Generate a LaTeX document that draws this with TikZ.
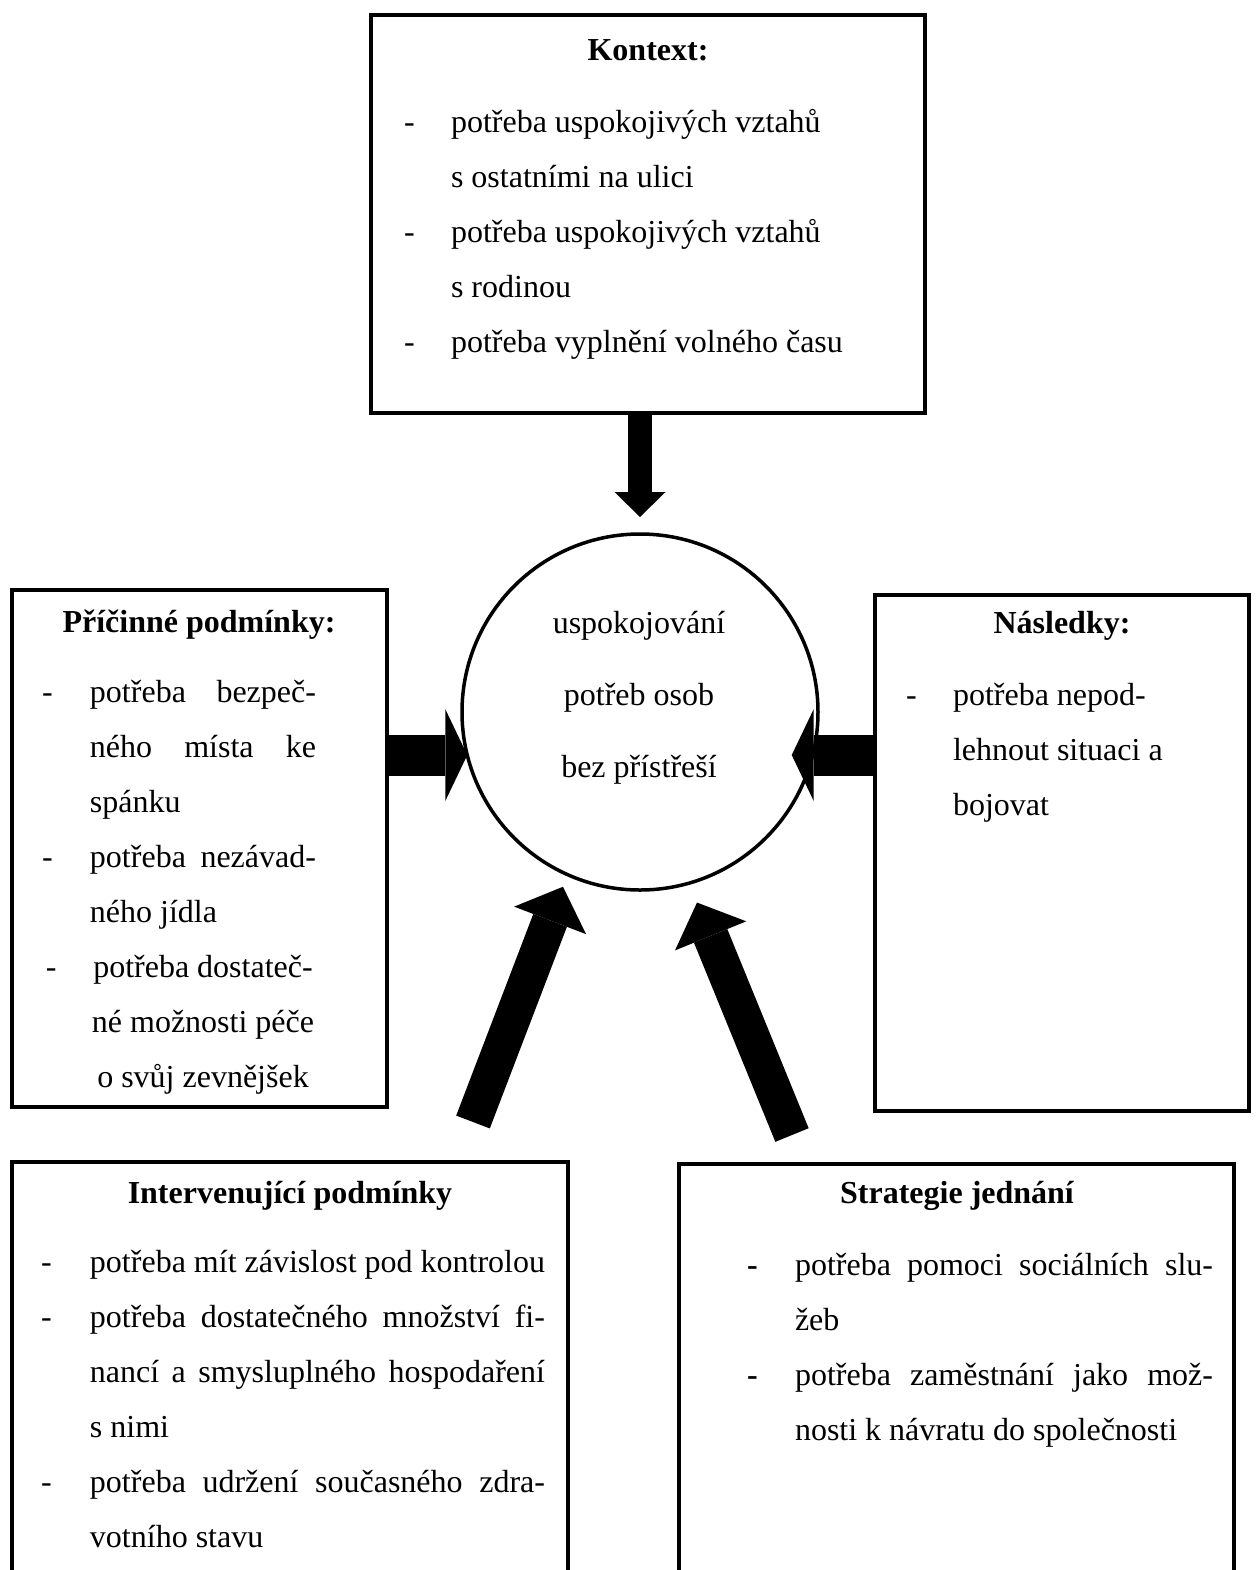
\documentclass[tikz,border=0pt]{standalone}
\usepackage{fontspec}
\setmainfont{Liberation Serif}
\usetikzlibrary{arrows.meta}
\newcommand{\jst}[2]{\makebox[#1][s]{#2}}

\begin{document}
\begin{tikzpicture}[x=0.5pt,y=-0.5pt]
        \tikzstyle{every node}=[inner sep=0pt, outer sep=0pt, font=\fontsize{16}{20}\selectfont]
        \tikzstyle{box}=[draw, rectangle, line width=2pt]
        \tikzstyle{ln}=[anchor=base west]
        \tikzstyle{cl}=[anchor=base]
        \tikzstyle{hd}=[anchor=base, font=\fontsize{16}{20}\selectfont\bfseries]
        \tikzset{downarr/.style={line width=12pt, -{Triangle[length=12.5pt, width=25.5pt, line width=0pt]}},
                 sidearr/.style={line width=20.5pt, -{Triangle[length=11pt, width=46pt, line width=0pt]}},
                 uparr/.style={line width=18pt, -{Triangle[length=18pt, width=38.5pt, line width=0pt]}}}
        \useasboundingbox (0,0) rectangle (1256,1570);
        \clip (0,0) rectangle (1256,1570);

        \node[box, minimum width=277pt, minimum height=199pt] (kontext) at (648,214) {};
        \node[box, minimum width=187.5pt, minimum height=258.5pt] (pricinne) at (199.5,848.5) {};
        \node[box, minimum width=187pt, minimum height=258pt] (nasledky) at (1062,853) {};
        \node[box, minimum width=278pt, minimum height=229pt] (intervence) at (290,1391) {};
        \node[box, minimum width=277.5pt, minimum height=228pt] (strategie) at (956.5,1392) {};
        \node[draw, circle, line width=1.75pt, minimum size=178pt] (circ) at (640,712) {};

        \node[hd] (kontext-t) at (648,60) {Kontext:};
        \foreach \t [count=\i from 0] in {potřeba uspokojivých vztahů, s ostatními na ulici,
                potřeba uspokojivých vztahů, s rodinou, potřeba vyplnění volného času}
            \node[ln] (kl\i) at (451,132+55*\i) {\t};
        \foreach \i in {0,2,4} \node[ln] (kd\i) at (404,132+55*\i) {-};

        \node[cl] (circ-1) at (639,633) {uspokojování};
        \node[cl] (circ-2) at (639,705) {potřeb osob};
        \node[cl] (circ-3) at (639,777) {bez přístřeší};

        \node[hd] (pricinne-t) at (199,632) {Příčinné podmínky:};
        \foreach \t [count=\i from 0] in {\jst{113pt}{potřeba bezpeč-}, \jst{113pt}{ného místa ke}, spánku,
                \jst{113pt}{potřeba nezávad-}, ného jídla}
            \node[ln] (pl\i) at (90,702+55*\i) {\t};
        \foreach \t [count=\i from 5] in {potřeba dostateč-, né možnosti péče, o svůj zevnějšek}
            \node[cl] (pl\i) at (203,702+55*\i) {\t};
        \node[ln] (pd0) at (42,702) {-};
        \node[ln] (pd3) at (42,867) {-};
        \node[ln] (pd5) at (46,977) {-};

        \node[hd] (nasledky-t) at (1062,633) {Následky:};
        \foreach \t [count=\i from 0] in {potřeba nepod-, lehnout situaci a, bojovat}
            \node[ln] (nl\i) at (953,705+55*\i) {\t};
        \node[ln] (nd0) at (906,705) {-};

        \node[hd] (intervence-t) at (290,1203) {Intervenující podmínky};
        \foreach \t [count=\i from 0] in {potřeba mít závislost pod kontrolou,
                \jst{227.5pt}{potřeba dostatečného množství fi-}, \jst{227.5pt}{nancí a smysluplného hospodaření},
                s nimi, \jst{227.5pt}{potřeba udržení současného zdra-}, votního stavu}
            \node[ln] (il\i) at (90,1272+55*\i) {\t};
        \foreach \i in {0,1,4} \node[ln] (id\i) at (41,1272+55*\i) {-};

        \node[hd] (strategie-t) at (957,1203) {Strategie jednání};
        \foreach \t [count=\i from 0] in {\jst{209pt}{potřeba pomoci sociálních slu-}, žeb,
                \jst{209pt}{potřeba zaměstnání jako mož-}, nosti k návratu do společnosti}
            \node[ln] (sl\i) at (795,1275+55*\i) {\t};
        \foreach \i in {0,2} \node[ln] (sd\i) at (747,1275+55*\i) {\textbf{-}};

        \draw[downarr, shorten >=8.5pt] (kontext.south -| circ.north) -- (circ.north);
        \draw[sidearr] (pricinne.east |- circ.194.5) -- (circ.194.5);
        \draw[sidearr, shorten >=-10.5pt] (nasledky.west |- circ.-14.5) -- (circ.-14.5);
        \coordinate (inttail) at (473,1122);
        \coordinate (strtail) at (792,1135);
        \draw[uparr, shorten >=6.5pt] (inttail) -- (circ.-114.2);
        \draw[uparr, shorten >=10.5pt] (strtail) -- (circ.-74.4);
    \end{tikzpicture}
\end{document}
